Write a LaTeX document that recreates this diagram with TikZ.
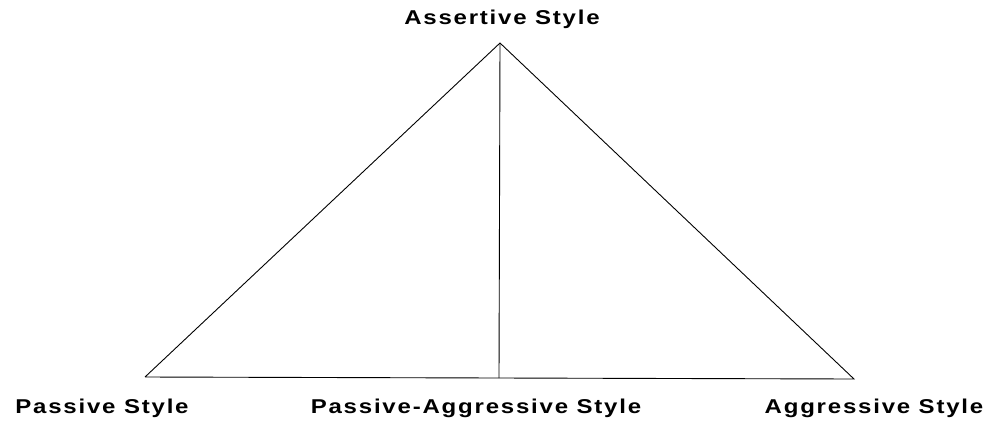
\documentclass[tikz,border=0pt]{standalone}
\usepackage{fontspec}
\setmainfont{Liberation Sans}
\newfontfamily\widesans[LetterSpace=9,FakeStretch=1.2]{Liberation Sans}
\usetikzlibrary{positioning}

\begin{document}
\begin{tikzpicture}[x=1pt, y=-1pt,
  lbl/.style={font=\widesans\fontsize{20}{24}\selectfont\bfseries, anchor=base, inner sep=0pt},
  edg/.style={line width=0.9pt, black}
]
\useasboundingbox (0,0) rectangle (988,437);

% corners of the triangle
\coordinate (apex)  at (500,43);
\coordinate (left)  at (145,377);
\coordinate (right) at (854,379);
\coordinate (mid)   at (499,378);

\draw[edg] (left) -- (apex) -- (right) -- (mid) -- (left);
\draw[edg] (apex) -- (mid);

\node[lbl] (assert)  at (502,24)  {Assertive\ Style};
\node[lbl] (passive) at (102,413) {Passive\ Style};
\node[lbl] (pasagr)  at (476,413) {Passive-Aggressive\ Style};
\node[lbl] (aggr)    at (874,413) {Aggressive\ Style};
\end{tikzpicture}
\end{document}
